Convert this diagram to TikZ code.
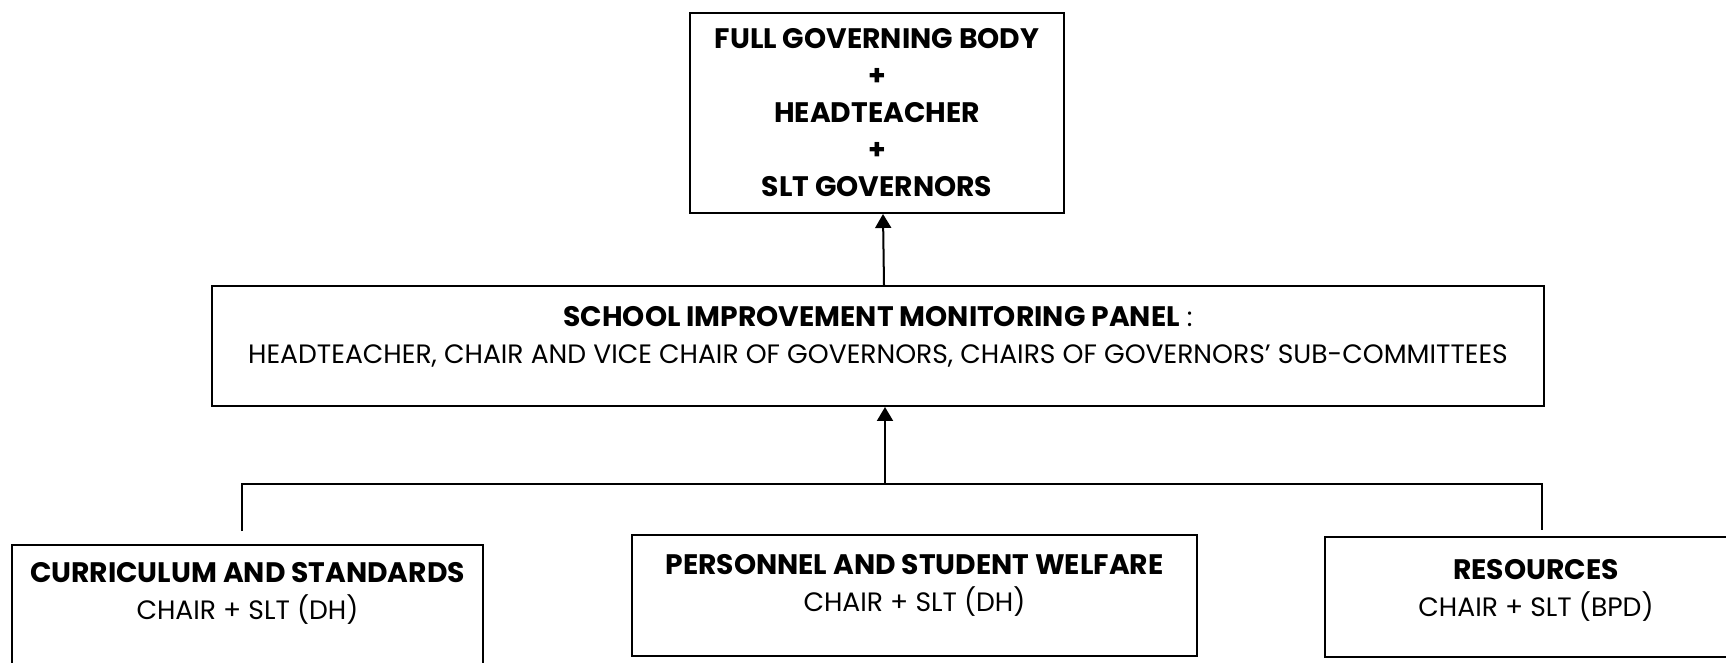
\documentclass[tikz,border=0pt]{standalone}
\usepackage{fontspec}
\setmainfont{Poppins}[BoldFeatures={Scale=1.06}]
\usetikzlibrary{positioning,arrows.meta}
\def \pxsize {0.5pt}
\tikzstyle{panel}=[draw, line width=1pt, inner sep=0pt]
\tikzstyle{txt}=[align=center, inner sep=0pt, font=\fontsize{13.3}{18.5}\selectfont]
\tikzstyle{link}=[line width=1pt]
\tikzstyle{uparrow}=[link, -{Triangle[length=7pt, width=8pt]}]

\begin{document}
\begin{tikzpicture}[x=\pxsize, y=-\pxsize]
\useasboundingbox (0,0) rectangle (1726,663);

\node[panel, txt, minimum width=187pt, minimum height=100pt] (fgb) at (877,113)
    {\textbf{FULL GOVERNING BODY}\\\textbf{+}\\\textbf{HEADTEACHER}\\\textbf{+}\\\textbf{SLT GOVERNORS}};

\node[panel, minimum width=666pt, minimum height=60pt] (simp) at (878,346) {};
\node[txt, below=10.5pt of simp.north] (simptext)
    {\textbf{SCHOOL IMPROVEMENT MONITORING PANEL} :\\HEADTEACHER, CHAIR AND VICE CHAIR OF GOVERNORS, CHAIRS OF GOVERNORS’ SUB-COMMITTEES};

\node[panel, minimum width=235.5pt, minimum height=60pt] (cs) at (247.5,605) {};
\node[txt, below=9pt of cs.north] (cstext) {\textbf{CURRICULUM AND STANDARDS}\\CHAIR + SLT (DH)};

\node[panel, minimum width=282.5pt, minimum height=60.5pt] (psw) at (914.5,595.5) {};
\node[txt, below=10pt of psw.north] (pswtext) {\textbf{PERSONNEL AND STUDENT WELFARE}\\CHAIR + SLT (DH)};

\node[panel, minimum width=211pt, minimum height=60pt] (res) at (1536,597) {};
\node[txt, below=11.5pt of res.north] (restext) {\textbf{RESOURCES}\\CHAIR + SLT (BPD)};

\coordinate (busl) at (242,484);
\coordinate (busr) at (1542,484);
\coordinate (busm) at (885,484);
\coordinate (dropl) at (242,531);
\coordinate (dropr) at (1542,530);

\draw[link] (dropl) -- (busl) -- (busr) -- (dropr);
\draw[uparrow] (busm) -- (busm |- simp.south);
\draw[uparrow] ([xshift=3pt]simp.north) -- ([xshift=3pt]fgb.south);

\end{tikzpicture}
\end{document}
